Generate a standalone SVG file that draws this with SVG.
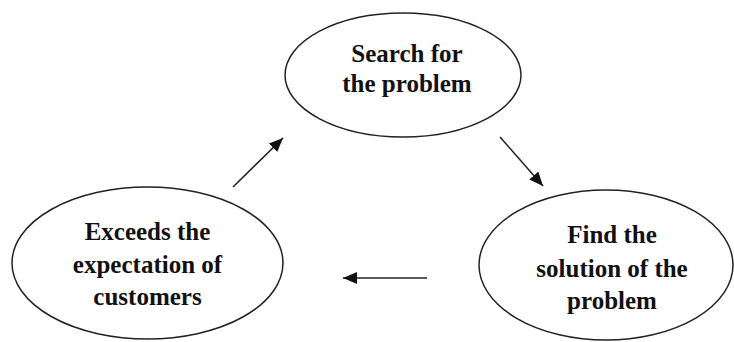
<svg xmlns="http://www.w3.org/2000/svg" width="734" height="342" viewBox="0 0 734 342">
<style>
.node ellipse{fill:#fff;stroke:#222;stroke-width:1.5}
.node text{font-family:"Liberation Serif","Times New Roman",serif;font-weight:bold;font-size:25px;fill:#111;text-anchor:middle}
.conn line{stroke:#222;stroke-width:1.6}
</style>
<defs>
<marker id="ah" markerWidth="14" markerHeight="12" refX="14" refY="6" orient="auto" markerUnits="userSpaceOnUse" viewBox="0 0 14 12">
<path d="M0,0 L14,6 L0,12 Z" fill="#111"/>
</marker>
</defs>
<rect width="734" height="342" fill="#fff"/>
<g id="search" class="node">
<ellipse cx="403" cy="75" rx="118" ry="62"/>
<text x="407" y="62">Search for</text>
<text x="407" y="92">the problem</text>
</g>
<g id="find" class="node">
<ellipse cx="606" cy="265" rx="127" ry="75"/>
<text x="612" y="243">Find the</text>
<text x="612" y="277">solution of the</text>
<text x="612" y="309">problem</text>
</g>
<g id="exceeds" class="node">
<ellipse cx="147.5" cy="263" rx="135.5" ry="76"/>
<text x="147.5" y="240">Exceeds the</text>
<text x="147.5" y="273">expectation of</text>
<text x="147.5" y="305">customers</text>
</g>
<g id="connectors" class="conn">
<line x1="500" y1="137" x2="543" y2="186" marker-end="url(#ah)"/>
<line x1="427" y1="278" x2="343" y2="278" marker-end="url(#ah)"/>
<line x1="233" y1="187" x2="283" y2="138" marker-end="url(#ah)"/>
</g>
</svg>
